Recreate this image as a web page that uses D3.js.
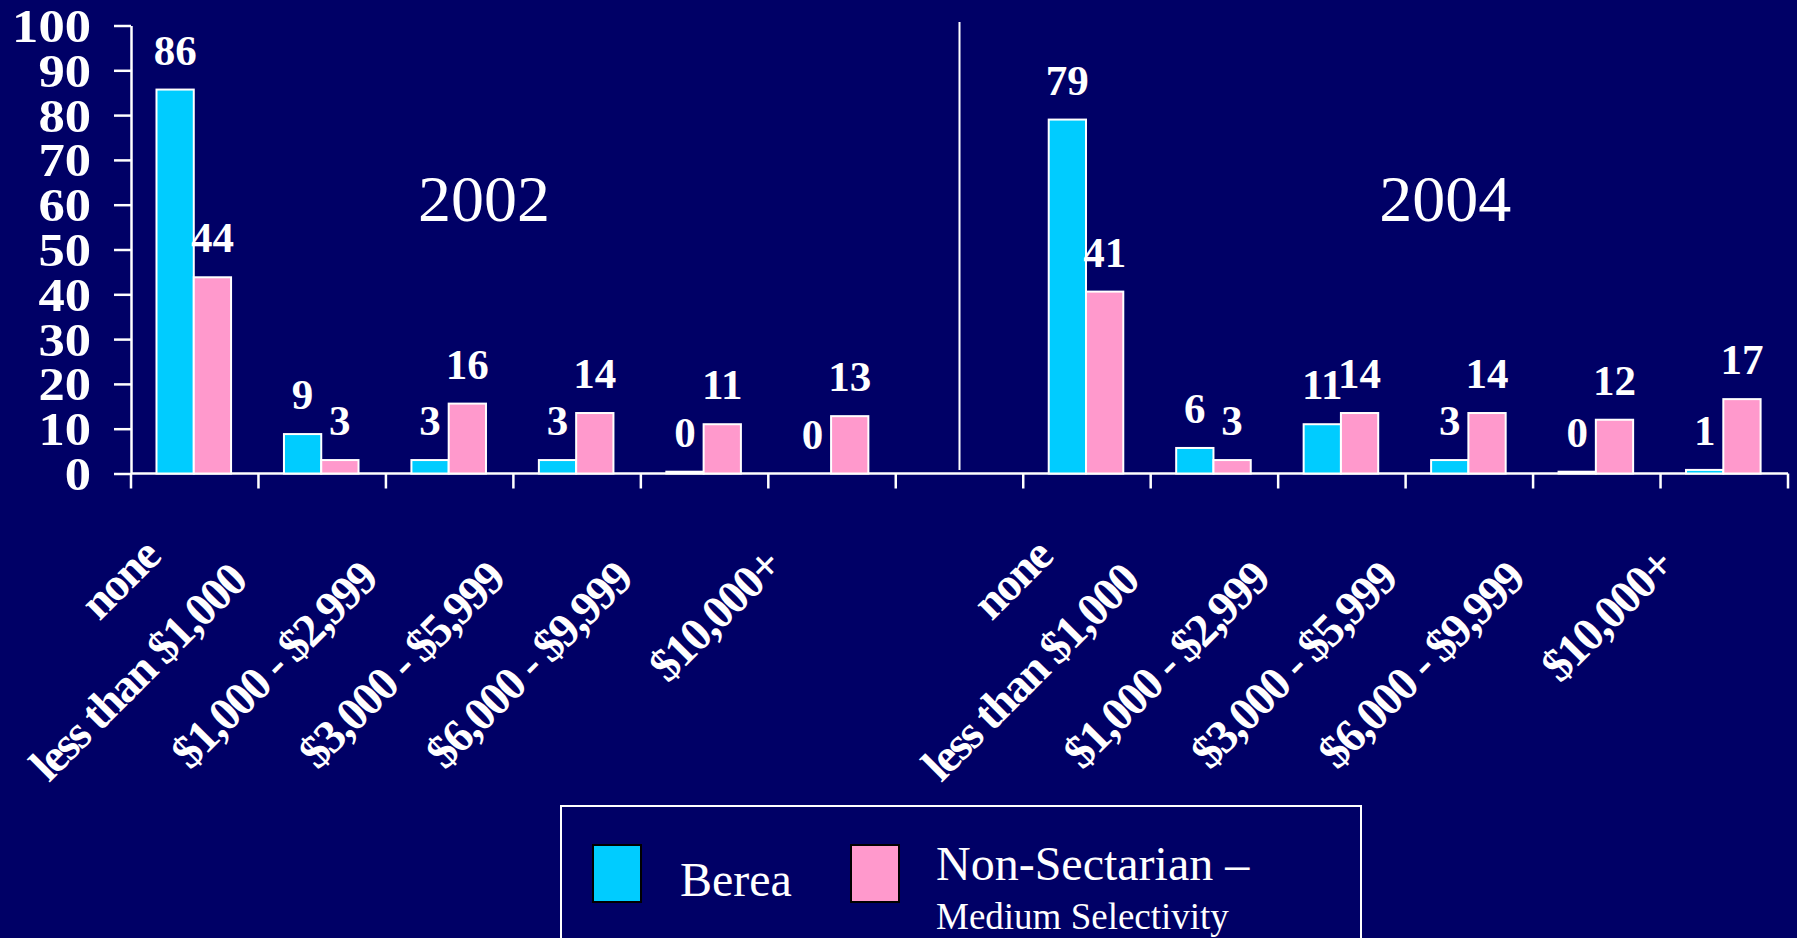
<!DOCTYPE html>
<html lang="en">

<head>
  <meta charset="UTF-8">
  <title>Savings by Amount, 2002 and 2004</title>
  <script src="https://d3js.org/d3.v7.min.js"></script>
  <style>
    body {
      margin: 0;
      background: #000066;
    }

    svg text {
      font-family: "Liberation Serif", "Times New Roman", serif;
    }

    .tick-label {
      fill: white;
      font-size: 47px;
      font-weight: bold;
    }

    .value-label {
      fill: white;
      font-size: 43px;
      font-weight: bold;
    }

    .cat-label {
      fill: white;
      font-size: 47px;
      font-weight: bold;
      letter-spacing: -2px;
    }

    .year-label {
      fill: white;
      font-size: 66px;
    }
  </style>
</head>

<body>
  <div id="chart"></div>

  <script>
    // data
    const categories = ["none", "less than $1,000", "$1,000 - $2,999", "$3,000 - $5,999", "$6,000 - $9,999", "$10,000+"];
    const years = ["2002", "2004"];
    const series = ["Berea", "Non-Sectarian –", "Medium Selectivity"];
    const berea2002 = [85.7, 8.8, 3.0, 3.0, 0.4, 0];
    const nonSect2002 = [43.8, 3.0, 15.6, 13.5, 11.0, 12.8];
    const berea2004 = [79.0, 5.7, 11.0, 3.0, 0.4, 0.8];
    const nonSect2004 = [40.6, 3.0, 13.5, 13.5, 12.0, 16.6];
    const yTicks = [0, 10, 20, 30, 40, 50, 60, 70, 80, 90, 100];

    const colors = ["#00ccff", "#ff99cc"];
    const W = 1797, H = 938;

    const svg = d3.select("#chart").append("svg")
      .attr("width", W)
      .attr("height", H);

    svg.append("rect")
      .attr("width", W)
      .attr("height", H)
      .attr("fill", "#000066");

    // one band per category per year, with an empty band between the years
    const slots = [];
    years.forEach((yr, i) => {
      if (i > 0) slots.push("gap");
      categories.forEach(c => slots.push(yr + "|" + c));
    });

    const rows = [];
    const yearData = { "2002": [berea2002, nonSect2002], "2004": [berea2004, nonSect2004] };
    years.forEach(yr => {
      categories.forEach((c, i) => {
        rows.push({ slot: yr + "|" + c, cat: c, values: [yearData[yr][0][i], yearData[yr][1][i]] });
      });
    });

    const x0 = d3.scaleBand()
      .domain(slots)
      .range([131, 1788]);

    const bw = x0.bandwidth();
    const x1 = d3.scaleBand()
      .domain([0, 1])
      .range([bw * 0.2, bw * 0.785]);

    const y = d3.scaleLinear()
      .domain([0, 100])
      .range([473.5, 25.5]);

    // y axis
    const yAxis = svg.append("g")
      .attr("transform", "translate(131,0)")
      .call(d3.axisLeft(y).tickValues(yTicks).tickSize(17).tickSizeOuter(0).tickPadding(23));
    yAxis.attr("font-family", null).attr("font-size", null);
    yAxis.select(".domain").attr("stroke", "white").attr("stroke-width", 2.5);
    yAxis.selectAll(".tick line").attr("stroke", "white").attr("stroke-width", 2.5);
    // glyphs in the original are a little wider than Times
    yAxis.selectAll(".tick text")
      .attr("class", "tick-label")
      .attr("fill", "white")
      .attr("x", null)
      .attr("dy", "0.34em")
      .attr("transform", "translate(-40,0) scale(1.12,1)");

    // x axis: line + ticks at every band edge
    const xAxisG = svg.append("g");
    xAxisG.append("line")
      .attr("x1", x0.range()[0])
      .attr("x2", x0.range()[1])
      .attr("y1", y(0))
      .attr("y2", y(0))
      .attr("stroke", "white")
      .attr("stroke-width", 2.5);

    const edges = slots.map(s => x0(s)).concat([x0.range()[1]]);
    xAxisG.selectAll(".xtick")
      .data(edges)
      .enter().append("line")
      .attr("class", "xtick")
      .attr("x1", d => d)
      .attr("x2", d => d)
      .attr("y1", y(0))
      .attr("y2", y(0) + 15)
      .attr("stroke", "white")
      .attr("stroke-width", 2.5);

    // separator between the two years
    svg.append("line")
      .attr("x1", x0("gap") + bw / 2)
      .attr("x2", x0("gap") + bw / 2)
      .attr("y1", 22)
      .attr("y2", 470)
      .attr("stroke", "white")
      .attr("stroke-width", 2);

    // year titles
    const yearPos = [x0("2002|" + categories[2]) + bw * 0.77, x0("2004|" + categories[3]) + bw * 0.31];
    svg.selectAll(".year-label")
      .data(years)
      .enter().append("text")
      .attr("class", "year-label")
      .attr("x", (d, i) => yearPos[i])
      .attr("y", 221)
      .attr("text-anchor", "middle")
      .text(d => d);

    // bars
    const groups = svg.selectAll(".grp")
      .data(rows)
      .enter().append("g")
      .attr("class", "grp")
      .attr("transform", d => `translate(${x0(d.slot)},0)`);

    groups.selectAll("rect")
      .data(d => d.values.map((v, i) => ({ v, i })).filter(e => e.v > 0))
      .enter().append("rect")
      .attr("x", d => x1(d.i))
      .attr("y", d => y(d.v))
      .attr("width", x1.bandwidth())
      .attr("height", d => y(0) - y(d.v))
      .attr("fill", d => colors[d.i])
      .attr("stroke", "white")
      .attr("stroke-width", 2);

    const fmt = d3.format(".0f");
    groups.selectAll(".value-label")
      .data(d => d.values.map((v, i) => ({ v, i })))
      .enter().append("text")
      .attr("class", "value-label")
      .attr("x", d => x1(d.i) + x1.bandwidth() / 2)
      .attr("y", d => y(d.v) - 25)
      .attr("text-anchor", "middle")
      .text(d => fmt(d.v));

    // rotated category labels (longer labels sit a bit lower and further left)
    rows.forEach(d => {
      const cx = x0(d.slot) + bw / 2;
      const t = svg.append("text")
        .attr("class", "cat-label")
        .attr("text-anchor", "end")
        .text(d.cat);
      const L = t.node().getComputedTextLength();
      const ex = cx - 14 - 0.21 * L;
      const ey = 548 + 0.125 * L;
      t.attr("transform", `translate(${ex},${ey}) rotate(-45)`);
    });

    // legend
    const legend = svg.append("g");
    legend.append("rect")
      .attr("x", 561)
      .attr("y", 806)
      .attr("width", 800)
      .attr("height", 150)
      .attr("fill", "none")
      .attr("stroke", "white")
      .attr("stroke-width", 2);

    const swatchX = [593, 851];
    legend.selectAll(".swatch")
      .data(colors)
      .enter().append("rect")
      .attr("class", "swatch")
      .attr("x", (d, i) => swatchX[i])
      .attr("y", 845)
      .attr("width", 48)
      .attr("height", 57)
      .attr("fill", d => d)
      .attr("stroke", "black")
      .attr("stroke-width", 2);

    legend.append("text")
      .attr("x", 680)
      .attr("y", 896)
      .attr("fill", "white")
      .attr("font-size", 48)
      .text(series[0]);

    legend.append("text")
      .attr("x", 936)
      .attr("y", 880)
      .attr("fill", "white")
      .attr("font-size", 48)
      .text(series[1]);

    legend.append("text")
      .attr("x", 936)
      .attr("y", 929)
      .attr("fill", "white")
      .attr("font-size", 37)
      .text(series[2]);
  </script>
</body>

</html>
